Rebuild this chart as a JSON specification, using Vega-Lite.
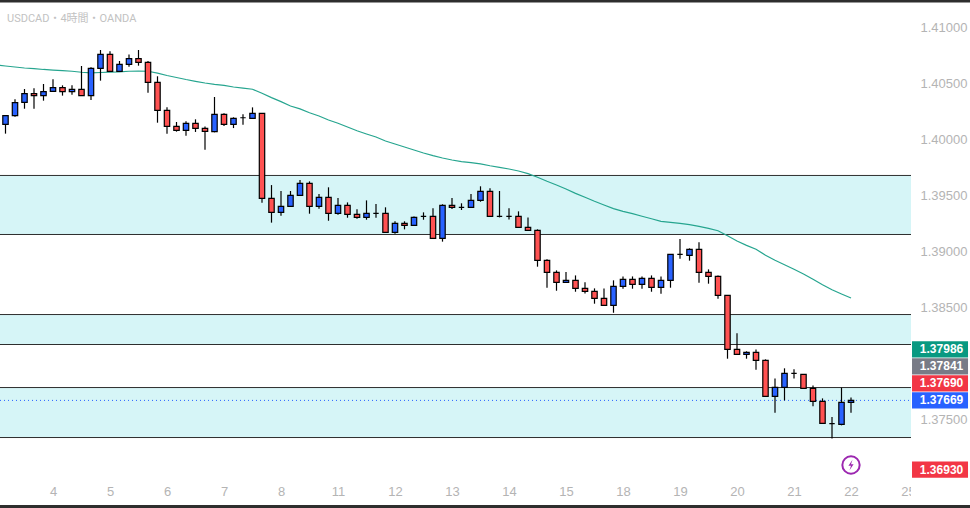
{
  "$schema": "https://vega.github.io/schema/vega-lite/v6.json",
  "width": 970,
  "height": 508,
  "padding": 0,
  "autosize": "none",
  "background": "#ffffff",
  "title": {
    "text": "USDCAD・4時間・OANDA",
    "anchor": "start",
    "frame": "group",
    "offset": -26,
    "dx": 7,
    "fontSize": 11,
    "fontWeight": "normal",
    "color": "#c2c2c2",
    "font": "Roboto, Noto Sans CJK JP"
  },
  "config": {
    "view": {"stroke": null},
    "text": {"font": "Liberation Sans"},
    "axis": {"labelFont": "Liberation Sans"}
  },
  "datasets": {
    "bars": [
      {"i":-1,"ema":1.40670},
      {"i":0,"o":1.40138,"h":1.40216,"l":1.40055,"c":1.40216,"ema":1.40660,"d":"up"},
      {"i":1,"o":1.40216,"h":1.40362,"l":1.40207,"c":1.40332,"ema":1.40651,"d":"up"},
      {"i":2,"o":1.40335,"h":1.40454,"l":1.40278,"c":1.40413,"ema":1.40642,"d":"up"},
      {"i":3,"o":1.40413,"h":1.40460,"l":1.40278,"c":1.40395,"ema":1.40636,"d":"down"},
      {"i":4,"o":1.40395,"h":1.40499,"l":1.40350,"c":1.40430,"ema":1.40629,"d":"up"},
      {"i":5,"o":1.40433,"h":1.40541,"l":1.40433,"c":1.40466,"ema":1.40624,"d":"up"},
      {"i":6,"o":1.40466,"h":1.40487,"l":1.40395,"c":1.40430,"ema":1.40618,"d":"down"},
      {"i":7,"o":1.40430,"h":1.40487,"l":1.40404,"c":1.40451,"ema":1.40613,"d":"up"},
      {"i":8,"o":1.40451,"h":1.40660,"l":1.40395,"c":1.40395,"ema":1.40604,"d":"down"},
      {"i":9,"o":1.40395,"h":1.40648,"l":1.40356,"c":1.40639,"ema":1.40599,"d":"up"},
      {"i":10,"o":1.40639,"h":1.40803,"l":1.40529,"c":1.40764,"ema":1.40602,"d":"up"},
      {"i":11,"o":1.40764,"h":1.40791,"l":1.40612,"c":1.40612,"ema":1.40606,"d":"down"},
      {"i":12,"o":1.40612,"h":1.40705,"l":1.40612,"c":1.40675,"ema":1.40608,"d":"up"},
      {"i":13,"o":1.40675,"h":1.40764,"l":1.40654,"c":1.40726,"ema":1.40613,"d":"up"},
      {"i":14,"o":1.40726,"h":1.40803,"l":1.40663,"c":1.40693,"ema":1.40615,"d":"down"},
      {"i":15,"o":1.40693,"h":1.40705,"l":1.40421,"c":1.40514,"ema":1.40613,"d":"down"},
      {"i":16,"o":1.40514,"h":1.40568,"l":1.40153,"c":1.40263,"ema":1.40597,"d":"down"},
      {"i":17,"o":1.40263,"h":1.40290,"l":1.40055,"c":1.40120,"ema":1.40575,"d":"down"},
      {"i":18,"o":1.40120,"h":1.40159,"l":1.40073,"c":1.40084,"ema":1.40557,"d":"down"},
      {"i":19,"o":1.40084,"h":1.40165,"l":1.40037,"c":1.40147,"ema":1.40539,"d":"up"},
      {"i":20,"o":1.40147,"h":1.40183,"l":1.40070,"c":1.40102,"ema":1.40523,"d":"down"},
      {"i":21,"o":1.40102,"h":1.40120,"l":1.39912,"c":1.40076,"ema":1.40508,"d":"down"},
      {"i":22,"o":1.40073,"h":1.40383,"l":1.40067,"c":1.40228,"ema":1.40496,"d":"up"},
      {"i":23,"o":1.40228,"h":1.40237,"l":1.40123,"c":1.40138,"ema":1.40486,"d":"down"},
      {"i":24,"o":1.40138,"h":1.40201,"l":1.40105,"c":1.40192,"ema":1.40472,"d":"up"},
      {"i":25,"o":1.40197,"h":1.40228,"l":1.40135,"c":1.40197,"ema":1.40463,"d":"up"},
      {"i":26,"o":1.40192,"h":1.40290,"l":1.40192,"c":1.40237,"ema":1.40452,"d":"up"},
      {"i":27,"o":1.40237,"h":1.40237,"l":1.39437,"c":1.39476,"ema":1.40416,"d":"down"},
      {"i":28,"o":1.39476,"h":1.39595,"l":1.39259,"c":1.39351,"ema":1.40377,"d":"down"},
      {"i":29,"o":1.39351,"h":1.39542,"l":1.39321,"c":1.39405,"ema":1.40341,"d":"up"},
      {"i":30,"o":1.39405,"h":1.39542,"l":1.39405,"c":1.39503,"ema":1.40302,"d":"up"},
      {"i":31,"o":1.39503,"h":1.39640,"l":1.39503,"c":1.39610,"ema":1.40276,"d":"up"},
      {"i":32,"o":1.39610,"h":1.39628,"l":1.39339,"c":1.39405,"ema":1.40242,"d":"down"},
      {"i":33,"o":1.39405,"h":1.39515,"l":1.39384,"c":1.39485,"ema":1.40213,"d":"up"},
      {"i":34,"o":1.39485,"h":1.39575,"l":1.39276,"c":1.39342,"ema":1.40177,"d":"down"},
      {"i":35,"o":1.39342,"h":1.39479,"l":1.39330,"c":1.39414,"ema":1.40148,"d":"up"},
      {"i":36,"o":1.39414,"h":1.39440,"l":1.39303,"c":1.39333,"ema":1.40114,"d":"down"},
      {"i":37,"o":1.39333,"h":1.39378,"l":1.39294,"c":1.39306,"ema":1.40081,"d":"down"},
      {"i":38,"o":1.39306,"h":1.39458,"l":1.39285,"c":1.39342,"ema":1.40052,"d":"up"},
      {"i":39,"o":1.39342,"h":1.39426,"l":1.39303,"c":1.39342,"ema":1.40025,"d":"up"},
      {"i":40,"o":1.39342,"h":1.39396,"l":1.39172,"c":1.39172,"ema":1.39989,"d":"down"},
      {"i":41,"o":1.39172,"h":1.39271,"l":1.39160,"c":1.39253,"ema":1.39962,"d":"up"},
      {"i":42,"o":1.39253,"h":1.39271,"l":1.39199,"c":1.39235,"ema":1.39936,"d":"down"},
      {"i":43,"o":1.39235,"h":1.39315,"l":1.39235,"c":1.39306,"ema":1.39909,"d":"up"},
      {"i":44,"o":1.39315,"h":1.39351,"l":1.39285,"c":1.39315,"ema":1.39882,"d":"up"},
      {"i":45,"o":1.39315,"h":1.39387,"l":1.39118,"c":1.39118,"ema":1.39858,"d":"down"},
      {"i":46,"o":1.39118,"h":1.39423,"l":1.39089,"c":1.39414,"ema":1.39837,"d":"up"},
      {"i":47,"o":1.39414,"h":1.39479,"l":1.39381,"c":1.39396,"ema":1.39819,"d":"down"},
      {"i":48,"o":1.39396,"h":1.39432,"l":1.39372,"c":1.39396,"ema":1.39804,"d":"up"},
      {"i":49,"o":1.39396,"h":1.39515,"l":1.39396,"c":1.39458,"ema":1.39795,"d":"up"},
      {"i":50,"o":1.39458,"h":1.39584,"l":1.39446,"c":1.39539,"ema":1.39784,"d":"up"},
      {"i":51,"o":1.39539,"h":1.39566,"l":1.39315,"c":1.39315,"ema":1.39768,"d":"down"},
      {"i":52,"o":1.39315,"h":1.39542,"l":1.39306,"c":1.39315,"ema":1.39754,"d":"down"},
      {"i":53,"o":1.39315,"h":1.39387,"l":1.39288,"c":1.39315,"ema":1.39739,"d":"down"},
      {"i":54,"o":1.39315,"h":1.39360,"l":1.39217,"c":1.39217,"ema":1.39721,"d":"down"},
      {"i":55,"o":1.39217,"h":1.39306,"l":1.39190,"c":1.39190,"ema":1.39697,"d":"down"},
      {"i":56,"o":1.39190,"h":1.39199,"l":1.38865,"c":1.38922,"ema":1.39665,"d":"down"},
      {"i":57,"o":1.38922,"h":1.38931,"l":1.38677,"c":1.38814,"ema":1.39629,"d":"down"},
      {"i":58,"o":1.38814,"h":1.38832,"l":1.38650,"c":1.38725,"ema":1.39596,"d":"down"},
      {"i":59,"o":1.38725,"h":1.38817,"l":1.38725,"c":1.38743,"ema":1.39560,"d":"up"},
      {"i":60,"o":1.38743,"h":1.38787,"l":1.38641,"c":1.38671,"ema":1.39521,"d":"down"},
      {"i":61,"o":1.38671,"h":1.38725,"l":1.38626,"c":1.38644,"ema":1.39486,"d":"down"},
      {"i":62,"o":1.38644,"h":1.38671,"l":1.38534,"c":1.38582,"ema":1.39450,"d":"down"},
      {"i":63,"o":1.38582,"h":1.38671,"l":1.38519,"c":1.38519,"ema":1.39417,"d":"down"},
      {"i":64,"o":1.38519,"h":1.38743,"l":1.38453,"c":1.38689,"ema":1.39384,"d":"up"},
      {"i":65,"o":1.38689,"h":1.38778,"l":1.38668,"c":1.38752,"ema":1.39360,"d":"up"},
      {"i":66,"o":1.38752,"h":1.38778,"l":1.38668,"c":1.38707,"ema":1.39339,"d":"down"},
      {"i":67,"o":1.38707,"h":1.38778,"l":1.38668,"c":1.38761,"ema":1.39316,"d":"up"},
      {"i":68,"o":1.38761,"h":1.38787,"l":1.38641,"c":1.38680,"ema":1.39294,"d":"down"},
      {"i":69,"o":1.38680,"h":1.38778,"l":1.38623,"c":1.38743,"ema":1.39271,"d":"up"},
      {"i":70,"o":1.38743,"h":1.38975,"l":1.38677,"c":1.38975,"ema":1.39262,"d":"up"},
      {"i":71,"o":1.38975,"h":1.39112,"l":1.38936,"c":1.38975,"ema":1.39253,"d":"up"},
      {"i":72,"o":1.38966,"h":1.39029,"l":1.38919,"c":1.39020,"ema":1.39241,"d":"up"},
      {"i":73,"o":1.39020,"h":1.39083,"l":1.38722,"c":1.38814,"ema":1.39226,"d":"down"},
      {"i":74,"o":1.38814,"h":1.38841,"l":1.38713,"c":1.38778,"ema":1.39208,"d":"down"},
      {"i":75,"o":1.38778,"h":1.38787,"l":1.38579,"c":1.38608,"ema":1.39187,"d":"down"},
      {"i":76,"o":1.38608,"h":1.38608,"l":1.38042,"c":1.38125,"ema":1.39142,"d":"down"},
      {"i":77,"o":1.38125,"h":1.38269,"l":1.38081,"c":1.38081,"ema":1.39095,"d":"down"},
      {"i":78,"o":1.38081,"h":1.38108,"l":1.38042,"c":1.38099,"ema":1.39056,"d":"up"},
      {"i":79,"o":1.38099,"h":1.38125,"l":1.37943,"c":1.38027,"ema":1.39021,"d":"down"},
      {"i":80,"o":1.38027,"h":1.38036,"l":1.37705,"c":1.37705,"ema":1.38967,"d":"down"},
      {"i":81,"o":1.37705,"h":1.37866,"l":1.37559,"c":1.37785,"ema":1.38922,"d":"up"},
      {"i":82,"o":1.37785,"h":1.37956,"l":1.37669,"c":1.37911,"ema":1.38883,"d":"up"},
      {"i":83,"o":1.37911,"h":1.37947,"l":1.37866,"c":1.37911,"ema":1.38842,"d":"up"},
      {"i":84,"o":1.37902,"h":1.37902,"l":1.37777,"c":1.37777,"ema":1.38800,"d":"down"},
      {"i":85,"o":1.37777,"h":1.37803,"l":1.37616,"c":1.37660,"ema":1.38752,"d":"down"},
      {"i":86,"o":1.37660,"h":1.37687,"l":1.37463,"c":1.37463,"ema":1.38704,"d":"down"},
      {"i":87,"o":1.37461,"h":1.37520,"l":1.37329,"c":1.37461,"ema":1.38659,"d":"down"},
      {"i":88,"o":1.37454,"h":1.37783,"l":1.37446,"c":1.37651,"ema":1.38621,"d":"up"},
      {"i":89,"o":1.37651,"h":1.37696,"l":1.37559,"c":1.37669,"ema":1.38585,"d":"up"}
    ],
    "zones": [
      {"hi":1.39681,"lo":1.39153},
      {"hi":1.38437,"lo":1.38169},
      {"hi":1.37784,"lo":1.37337}
    ],
    "tags": [
      {"label":"1.37986","kind":"ema","at":1.38125},
      {"label":"1.37841","kind":"prev","at":1.37973},
      {"label":"1.37690","kind":"bid","at":1.37821},
      {"label":"1.37669","kind":"last","at":1.37669},
      {"label":"1.36930","kind":"low","at":1.37050}
    ],
    "signal": [{"i":89,"p":1.37091}]
  },
  "layer": [
    {
      "data": {"name": "zones"},
      "mark": {"type": "rect", "color": "#d6f5f7"},
      "encoding": {
        "x": {
          "datum": -0.5789,
          "title": null,
          "scale": {"domain": [-0.5789, 101.526], "nice": false, "zero": false, "padding": 0},
          "axis": {
            "values": [5, 11, 17, 23, 29, 35, 41, 47, 53, 59, 65, 71, 77, 83, 89, 95],
            "labelExpr": "['4','5','6','7','8','11','12','13','14','15','18','19','20','21','22','25'][(datum.value - 5) / 6]",
            "orient": "bottom",
            "grid": false,
            "ticks": false,
            "domain": false,
            "labelColor": "#b4b4b4",
            "labelFontSize": 13,
            "labelPadding": -23,
            "labelFlush": false,
            "labelBound": false,
            "labelOverlap": false,
            "zindex": 0
          }
        },
        "x2": {"datum": 95.316},
        "y": {
          "field": "hi",
          "type": "quantitative",
          "title": null,
          "scale": {"domain": [1.367066, 1.412504], "nice": false, "zero": false, "padding": 0},
          "axis": {
            "orient": "right",
            "values": [1.375, 1.385, 1.39, 1.395, 1.4, 1.405, 1.41],
            "format": ".5f",
            "grid": false,
            "ticks": false,
            "domain": false,
            "labelColor": "#b4b4b4",
            "labelFontSize": 13,
            "labelPadding": -50,
            "labelAlign": "left",
            "labelFlush": false,
            "labelBound": false,
            "labelOverlap": false,
            "zindex": 1
          }
        },
        "y2": {"field": "lo"}
      }
    },
    {
      "data": {"name": "zones"},
      "mark": {"type": "rule", "color": "#2e2e2e", "strokeWidth": 1},
      "encoding": {
        "x": {"datum": -0.5789, "title": null},
        "x2": {"datum": 95.316},
        "y": {"field": "hi", "type": "quantitative", "title": null}
      }
    },
    {
      "data": {"name": "zones"},
      "mark": {"type": "rule", "color": "#2e2e2e", "strokeWidth": 1},
      "encoding": {
        "x": {"datum": -0.5789, "title": null},
        "x2": {"datum": 95.316},
        "y": {"field": "lo", "type": "quantitative", "title": null}
      }
    },
    {
      "data": {"name": "tags"},
      "transform": [{"filter": "datum.kind == 'last'"}],
      "mark": {"type": "rule", "color": "#2962ff", "strokeWidth": 1, "strokeDash": [1, 3]},
      "encoding": {
        "x": {"datum": -0.5789, "title": null},
        "x2": {"datum": 95.316},
        "y": {"field": "at", "type": "quantitative", "title": null}
      }
    },
    {
      "data": {"name": "bars"},
      "mark": {"type": "line", "color": "#26a58f", "strokeWidth": 1.2, "clip": true},
      "encoding": {
        "x": {"field": "i", "type": "quantitative", "title": null},
        "y": {"field": "ema", "type": "quantitative", "title": null}
      }
    },
    {
      "data": {"name": "bars"},
      "mark": {"type": "rule", "color": "#000000", "strokeWidth": 1.2},
      "encoding": {
        "x": {"field": "i", "type": "quantitative", "title": null},
        "y": {"field": "l", "type": "quantitative", "title": null},
        "y2": {"field": "h"}
      }
    },
    {
      "data": {"name": "bars"},
      "mark": {"type": "bar", "size": 5.4, "stroke": "#000000", "strokeWidth": 1.2},
      "encoding": {
        "x": {"field": "i", "type": "quantitative", "title": null},
        "y": {"field": "o", "type": "quantitative", "title": null},
        "y2": {"field": "c"},
        "color": {
          "field": "d",
          "type": "nominal",
          "legend": null,
          "scale": {"domain": ["up", "down"], "range": ["#2962ff", "#ff5252"]}
        }
      }
    },
    {
      "data": {"values": [{"from": 95.316, "to": 102}]},
      "mark": {"type": "rect", "color": "#ffffff"},
      "encoding": {
        "x": {"field": "from", "type": "quantitative", "title": null},
        "x2": {"field": "to"}
      }
    },
    {
      "data": {"name": "tags"},
      "mark": {"type": "rect", "width": 56, "height": 16.4},
      "encoding": {
        "x": {"datum": 98.37, "title": null},
        "y": {"field": "at", "type": "quantitative", "title": null},
        "fill": {
          "field": "kind",
          "type": "nominal",
          "legend": null,
          "scale": {
            "domain": ["ema", "prev", "bid", "last", "low"],
            "range": ["#089981", "#787b86", "#f23645", "#2962ff", "#f23645"]
          }
        }
      }
    },
    {
      "data": {"name": "tags"},
      "mark": {"type": "text", "color": "#ffffff", "fontSize": 12, "fontWeight": "bold", "align": "center", "baseline": "middle"},
      "encoding": {
        "x": {"datum": 98.53, "title": null},
        "y": {"field": "at", "type": "quantitative", "title": null},
        "text": {"field": "label"}
      }
    },
    {
      "data": {"name": "signal"},
      "mark": {"type": "point", "shape": "circle", "size": 300, "filled": false, "color": "#9c27b0", "strokeWidth": 2, "opacity": 1},
      "encoding": {
        "x": {"field": "i", "type": "quantitative", "title": null},
        "y": {"field": "p", "type": "quantitative", "title": null}
      }
    },
    {
      "data": {"name": "signal"},
      "mark": {"type": "point", "shape": "M0.2,-0.7L-0.35,0.1L0,0.1L-0.2,0.7L0.35,-0.1L0,-0.1Z", "size": 220, "filled": true, "color": "#9c27b0", "opacity": 1},
      "encoding": {
        "x": {"field": "i", "type": "quantitative", "title": null},
        "y": {"field": "p", "type": "quantitative", "title": null}
      }
    },
    {
      "data": {"values": [{"edge": 1.412504}]},
      "mark": {"type": "rule", "color": "#2e2e2e", "strokeWidth": 5},
      "encoding": {
        "x": {"datum": -0.5789, "title": null},
        "x2": {"datum": 101.526},
        "y": {"field": "edge", "type": "quantitative", "title": null}
      }
    },
    {
      "data": {"values": [{"edge": 1.3672}]},
      "mark": {"type": "rule", "color": "#2e2e2e", "strokeWidth": 3},
      "encoding": {
        "x": {"datum": -0.5789, "title": null},
        "x2": {"datum": 101.526},
        "y": {"field": "edge", "type": "quantitative", "title": null}
      }
    }
  ]
}
